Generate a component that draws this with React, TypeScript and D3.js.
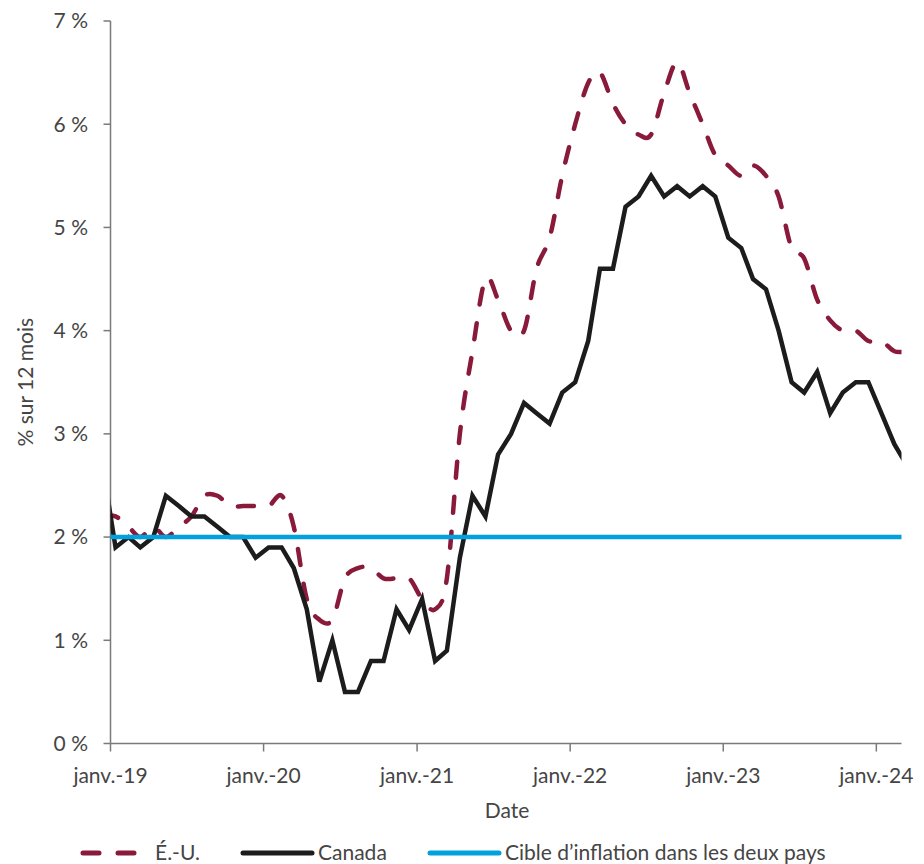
import * as React from "react";
import * as d3 from "d3";

// mois de déc. 2018 à mars 2024 (les extrémités sont coupées par la zone du graphique)
const firstMonth = new Date(2018, 11, 1);
const lastMonth = new Date(2024, 2, 1);

// É.-U., % sur 12 mois
const usValues = [
  2.2,
  2.2, 2.1, 2.0, 2.1, 2.0, 2.1, 2.2, 2.4, 2.4, 2.3, 2.3, 2.3,
  2.3, 2.4, 2.1, 1.4, 1.2, 1.2, 1.6, 1.7, 1.7, 1.6, 1.6, 1.6,
  1.4, 1.3, 1.6, 3.0, 3.8, 4.5, 4.3, 4.0, 4.0, 4.6, 4.9, 5.5,
  6.0, 6.4, 6.5, 6.2, 6.0, 5.9, 5.9, 6.3, 6.6, 6.3, 6.0, 5.7,
  5.6, 5.5, 5.6, 5.5, 5.3, 4.8, 4.7, 4.3, 4.1, 4.0, 4.0, 3.9,
  3.9, 3.8, 3.8,
];

// Canada, % sur 12 mois
const canadaValues = [
  2.7,
  1.9, 2.0, 1.9, 2.0, 2.4, 2.3, 2.2, 2.2, 2.1, 2.0, 2.0, 1.8,
  1.9, 1.9, 1.7, 1.3, 0.6, 1.0, 0.5, 0.5, 0.8, 0.8, 1.3, 1.1,
  1.4, 0.8, 0.9, 1.8, 2.4, 2.2, 2.8, 3.0, 3.3, 3.2, 3.1, 3.4,
  3.5, 3.9, 4.6, 4.6, 5.2, 5.3, 5.5, 5.3, 5.4, 5.3, 5.4, 5.3,
  4.9, 4.8, 4.5, 4.4, 4.0, 3.5, 3.4, 3.6, 3.2, 3.4, 3.5, 3.5,
  3.2, 2.9, 2.7,
];

// cible d'inflation
const targetValue = 2;

const yTicks = [0, 1, 2, 3, 4, 5, 6, 7];
const xTickYears = [2019, 2020, 2021, 2022, 2023, 2024];
const xTickLabels = ["janv.-19", "janv.-20", "janv.-21", "janv.-22", "janv.-23", "janv.-24"];

const legendLabels = ["É.-U.", "Canada", "Cible d’inflation dans les deux pays"];

const WIDTH = 924;
const HEIGHT = 864;
const left = 110.5;
const right = 901.5;
const top = 21;
const bottom = 743.5;

const FONT = "Lato, 'Open Sans', sans-serif";
const TEXT = "#454545";
const AXIS = "#7a7a7a";
const RED = "#8a1a3a";
const BLACK = "#1c1c1c";
const BLUE = "#00a1dc";

export default function App() {
  // point de chaque mois placé vers le 13 du mois, comme dans l'original
  const months = d3.timeMonth
    .range(firstMonth, d3.timeMonth.offset(lastMonth, 1))
    .map((d) => new Date(d.getFullYear(), d.getMonth(), 13));

  const x = d3
    .scaleTime()
    .domain([new Date(2019, 0, 1), new Date(2024, 2, 1)])
    .range([left, right]);

  const y = d3.scaleLinear().domain([0, 7]).range([bottom, top]);

  const usData = months.map((d, i) => ({ date: d, v: usValues[i] }));
  const caData = months.map((d, i) => ({ date: d, v: canadaValues[i] }));
  const targetData = months.map((d) => ({ date: d, v: targetValue }));

  const smooth = d3
    .line<{ date: Date; v: number }>()
    .x((d) => x(d.date))
    .y((d) => y(d.v))
    .curve(d3.curveCardinal.tension(0));

  const straight = d3
    .line<{ date: Date; v: number }>()
    .x((d) => x(d.date))
    .y((d) => y(d.v));

  const legendItems = [
    { x0: 81, x1: 137, tx: 155, color: RED, dash: "16 19" },
    { x0: 243, x1: 312, tx: 318, color: BLACK, dash: null },
    { x0: 430, x1: 499, tx: 505, color: BLUE, dash: null },
  ];

  return (
    <svg
      width={WIDTH}
      height={HEIGHT}
      style={{ position: "absolute", left: 0, top: 0, background: "#fff" }}
      fontFamily={FONT}
    >
      <defs>
        <clipPath id="plot">
          <rect x={left} y={0} width={right - left} height={HEIGHT - 100} />
        </clipPath>
      </defs>

      {/* axe des y */}
      <line x1={left} x2={left} y1={top} y2={bottom} stroke={AXIS} strokeWidth={1.5} />
      {yTicks.map((t) => (
        <g key={t} transform={`translate(0, ${y(t)})`}>
          <line x1={left - 7} x2={left} stroke={AXIS} strokeWidth={1.5} />
          <text x={88} y={0} dy="0.35em" textAnchor="end" fontSize={21} fill={TEXT}>
            {`${t} %`}
          </text>
        </g>
      ))}
      <text
        transform={`translate(24, ${(top + bottom) / 2}) rotate(-90)`}
        textAnchor="middle"
        dominantBaseline="central"
        fontSize={21}
        fill={TEXT}
      >
        % sur 12 mois
      </text>

      {/* axe des x */}
      <line x1={left} x2={right} y1={bottom} y2={bottom} stroke={AXIS} strokeWidth={1.5} />
      {xTickYears.map((yr, i) => {
        const tx = x(new Date(yr, 0, 1));
        return (
          <g key={yr} transform={`translate(${tx}, ${bottom})`}>
            <line y1={0} y2={8} stroke={AXIS} strokeWidth={1.5} />
            <text y={39} textAnchor="middle" fontSize={21} fill={TEXT}>
              {xTickLabels[i]}
            </text>
          </g>
        );
      })}
      <text x={507} y={818} textAnchor="middle" fontSize={21} fill={TEXT}>
        Date
      </text>

      {/* séries */}
      <g clipPath="url(#plot)">
        <path
          d={smooth(usData) ?? ""}
          fill="none"
          stroke={RED}
          strokeWidth={4.5}
          strokeDasharray="16 19"
          strokeLinecap="round"
        />
        <path d={straight(caData) ?? ""} fill="none" stroke={BLACK} strokeWidth={4.5} />
        <path d={straight(targetData) ?? ""} fill="none" stroke={BLUE} strokeWidth={4.5} />
      </g>

      {/* légende */}
      {legendItems.map((it, i) => (
        <g key={i} transform="translate(0, 853)">
          <line
            x1={it.x0 + (it.dash ? 2 : 0)}
            x2={it.x1 - (it.dash ? 2 : 0)}
            stroke={it.color}
            strokeWidth={5}
            strokeLinecap="round"
            strokeDasharray={it.dash ?? undefined}
          />
          <text x={it.tx} y={0} dy="0.35em" fontSize={21} fill={TEXT}>
            {legendLabels[i]}
          </text>
        </g>
      ))}
    </svg>
  );
}
